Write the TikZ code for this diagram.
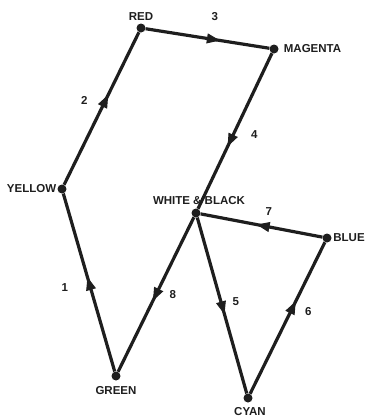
\documentclass[tikz,border=0pt]{standalone}
\usepackage{fontspec}
\setmainfont{Liberation Sans}
\usetikzlibrary{arrows.meta,decorations.markings}
\definecolor{Ink}{HTML}{1E1E1E}

\begin{document}
\begin{tikzpicture}[
  x=1pt, y=-1pt,
  dot/.style={circle, fill=Ink, inner sep=0pt, minimum size=9pt},
  lbl/.style={inner sep=0pt, text=Ink, font=\fontsize{11.5}{13}\selectfont\bfseries},
  flow/.style={draw=Ink, line width=3.2pt, decoration={markings, mark=at position #1 with {\arrow[line width=1pt]{Triangle[length=13pt, width=10pt]}}}, postaction=decorate}
]
\useasboundingbox (0,0) rectangle (366,418);

\node[dot, label={[lbl, label distance=3pt]above:RED}] (red) at (141,28) {};
\node[dot, label={[lbl, label distance=5pt]right:MAGENTA}] (magenta) at (274,49) {};
\node[dot, label={[lbl, label distance=1pt]left:YELLOW}] (yellow) at (62,189) {};
\node[dot, label={[lbl, label distance=3pt, xshift=3pt]above:WHITE \& BLACK}] (wb) at (196,213) {};
\node[dot, label={[lbl, label distance=1.5pt]right:BLUE}] (blue) at (327,238) {};
\node[dot, label={[lbl, label distance=6pt]below:GREEN}] (green) at (116,376) {};
\node[dot, label={[lbl, label distance=5pt, xshift=2pt]below:CYAN}] (cyan) at (248,398) {};

\draw[flow=0.53] (green) -- node[lbl, pos=0.47, left=21pt] {1} (yellow);
\draw[flow=0.59] (yellow) -- node[lbl, pos=0.55, left=16pt] {2} (red);
\draw[flow=0.6] (red) -- node[lbl, pos=0.56, above=17pt] {3} (magenta);
\draw[flow=0.6] (magenta) -- node[lbl, pos=0.52, right=16pt] {4} (wb);
\draw[flow=0.55] (wb) -- node[lbl, pos=0.48, right=10pt] {5} (cyan);
\draw[flow=0.61] (cyan) -- node[lbl, pos=0.54, right=13pt] {6} (blue);
\draw[flow=0.54] (blue) -- node[lbl, pos=0.44, above=10pt] {7} (wb);
\draw[flow=0.54] (wb) -- node[lbl, pos=0.5, right=12pt] {8} (green);
\end{tikzpicture}
\end{document}
